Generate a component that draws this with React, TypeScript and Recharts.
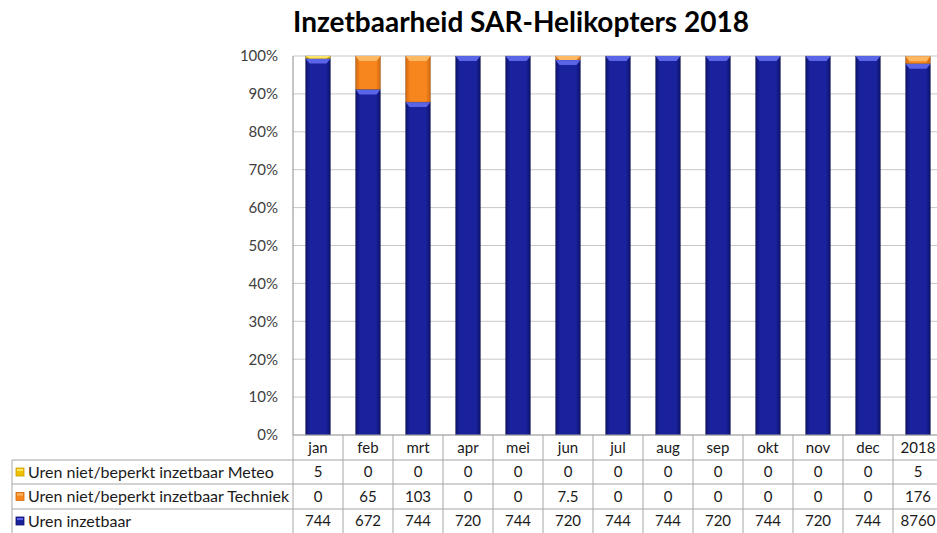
import { Bar, BarChart, CartesianGrid, XAxis, YAxis } from "recharts";

const categories = ["jan", "feb", "mrt", "apr", "mei", "jun", "jul", "aug", "sep", "okt", "nov", "dec", "2018"];
const meteo = [5, 0, 0, 0, 0, 0, 0, 0, 0, 0, 0, 0, 5];
const techniek = [0, 65, 103, 0, 0, 7.5, 0, 0, 0, 0, 0, 0, 176];
const inzetbaar = [744, 672, 744, 720, 744, 720, 744, 744, 720, 744, 720, 744, 8760];
const yTicks = [0, 0.1, 0.2, 0.3, 0.4, 0.5, 0.6, 0.7, 0.8, 0.9, 1];

const seriesInfo = [
  { key: "meteo", name: "Uren niet/beperkt inzetbaar Meteo", values: meteo, body: "#efc200", edge: "#c89c00", bevel: "#ffe466" },
  { key: "techniek", name: "Uren niet/beperkt inzetbaar Techniek", values: techniek, body: "#f7861e", edge: "#d0660c", bevel: "#ffb862" },
  { key: "inzetbaar", name: "Uren inzetbaar", values: inzetbaar, body: "#1a219c", edge: "#0c126a", bevel: "#5a64e6" },
];

const rows = categories.map((c, i) => ({
  cat: c,
  inzetbaar: inzetbaar[i],
  techniek: techniek[i],
  meteo: meteo[i],
}));

const FONT = "Lato, Carlito, Calibri, sans-serif";
const COL = 50;
const ROW_Y = [435, 460, 484, 509, 533];
const LINE = "#a6a6a6";

function makeShape(s: (typeof seriesInfo)[number]) {
  return (props: any) => {
    const { x, y, width, height } = props;
    if (!height || height < 0.3) return <g />;
    const b = Math.min(5, height);
    const id = "g-" + s.key;
    return (
      <g>
        <defs>
          <linearGradient id={id} x1="0" y1="0" x2="1" y2="0">
            <stop offset="0" stopColor={s.edge} />
            <stop offset="0.18" stopColor={s.body} />
            <stop offset="0.82" stopColor={s.body} />
            <stop offset="1" stopColor={s.edge} />
          </linearGradient>
        </defs>
        <rect x={x} y={y} width={width} height={height} fill={`url(#${id})`} stroke="rgba(0,0,0,0.3)" strokeWidth={0.6} />
        <polygon
          points={`${x},${y} ${x + width},${y} ${x + width - 4},${y + b} ${x + 4},${y + b}`}
          fill={s.bevel}
        />
      </g>
    );
  };
}

function TableTick(props: any) {
  const { x, payload, index } = props;
  const order = [meteo, techniek, inzetbaar];
  const textStyle = { fontFamily: FONT, fontSize: 15, fill: "#1a1a1a" };
  return (
    <g>
      {index === 0 && (
        <g>
          <line x1={x - COL / 2} x2={945} y1={ROW_Y[0]} y2={ROW_Y[0]} stroke={LINE} />
          {[1, 2, 3].map((r) => (
            <line key={r} x1={12} x2={945} y1={ROW_Y[r]} y2={ROW_Y[r]} stroke={LINE} />
          ))}
          <line x1={12} x2={12} y1={ROW_Y[1]} y2={ROW_Y[4]} stroke={LINE} />
          <line x1={x - COL / 2} x2={x - COL / 2} y1={ROW_Y[0]} y2={ROW_Y[4]} stroke={LINE} />
          {seriesInfo.map((s, r) => {
            const cy = (ROW_Y[r + 1] + ROW_Y[r + 2]) / 2;
            return (
              <g key={s.key}>
                <rect x={16} y={cy - 4} width={8} height={8} fill={s.body} stroke={s.edge} strokeWidth={0.8} />
                <rect x={17} y={cy - 3} width={6} height={2} fill={s.bevel} />
                <text x={28} y={cy} dy="0.35em" {...textStyle} fontSize={16}>
                  {s.name}
                </text>
              </g>
            );
          })}
        </g>
      )}
      <line x1={x + COL / 2} x2={x + COL / 2} y1={ROW_Y[0]} y2={ROW_Y[4]} stroke={LINE} />
      <text x={x} y={(ROW_Y[0] + ROW_Y[1]) / 2} dy="0.35em" textAnchor="middle" {...textStyle}>
        {payload.value}
      </text>
      {order.map((arr, r) => (
        <text key={r} x={x} y={(ROW_Y[r + 1] + ROW_Y[r + 2]) / 2} dy="0.35em" textAnchor="middle" {...textStyle}>
          {arr[index]}
        </text>
      ))}
    </g>
  );
}

export default function App() {
  return (
    <div style={{ position: "absolute", left: 0, top: 0, width: 937, height: 533, overflow: "hidden", background: "#fff" }}>
      <div
        style={{
          position: "absolute",
          left: 0,
          width: 1042,
          top: 4,
          textAlign: "center",
          fontFamily: FONT,
          fontWeight: 700,
          fontSize: 28,
          color: "#000",
        }}
      >
        Inzetbaarheid SAR-Helikopters 2018
      </div>
      <BarChart
        width={945}
        height={533}
        data={rows}
        stackOffset="expand"
        barCategoryGap="25%"
        margin={{ top: 56, right: 2, bottom: 0, left: 0 }}
      >
        <CartesianGrid vertical={false} stroke="#c8c8c8" />
        <XAxis
          dataKey="cat"
          height={98}
          interval={0}
          axisLine={false}
          tickLine={false}
          tick={<TableTick />}
        />
        <YAxis
          width={293}
          domain={[0, 1]}
          ticks={yTicks}
          tickFormatter={(v: number) => `${Math.round(v * 100)}%`}
          tick={{ fontFamily: FONT, fontSize: 15, fill: "#404040" }}
          axisLine={{ stroke: "#8c8c8c" }}
          tickLine={false}
          tickMargin={9}
        />
        {[...seriesInfo].reverse().map((s) => (
          <Bar
            key={s.key}
            dataKey={s.key}
            name={s.name}
            stackId="a"
            fill={s.body}
            shape={makeShape(s)}
            isAnimationActive={false}
          />
        ))}
      </BarChart>
    </div>
  );
}
